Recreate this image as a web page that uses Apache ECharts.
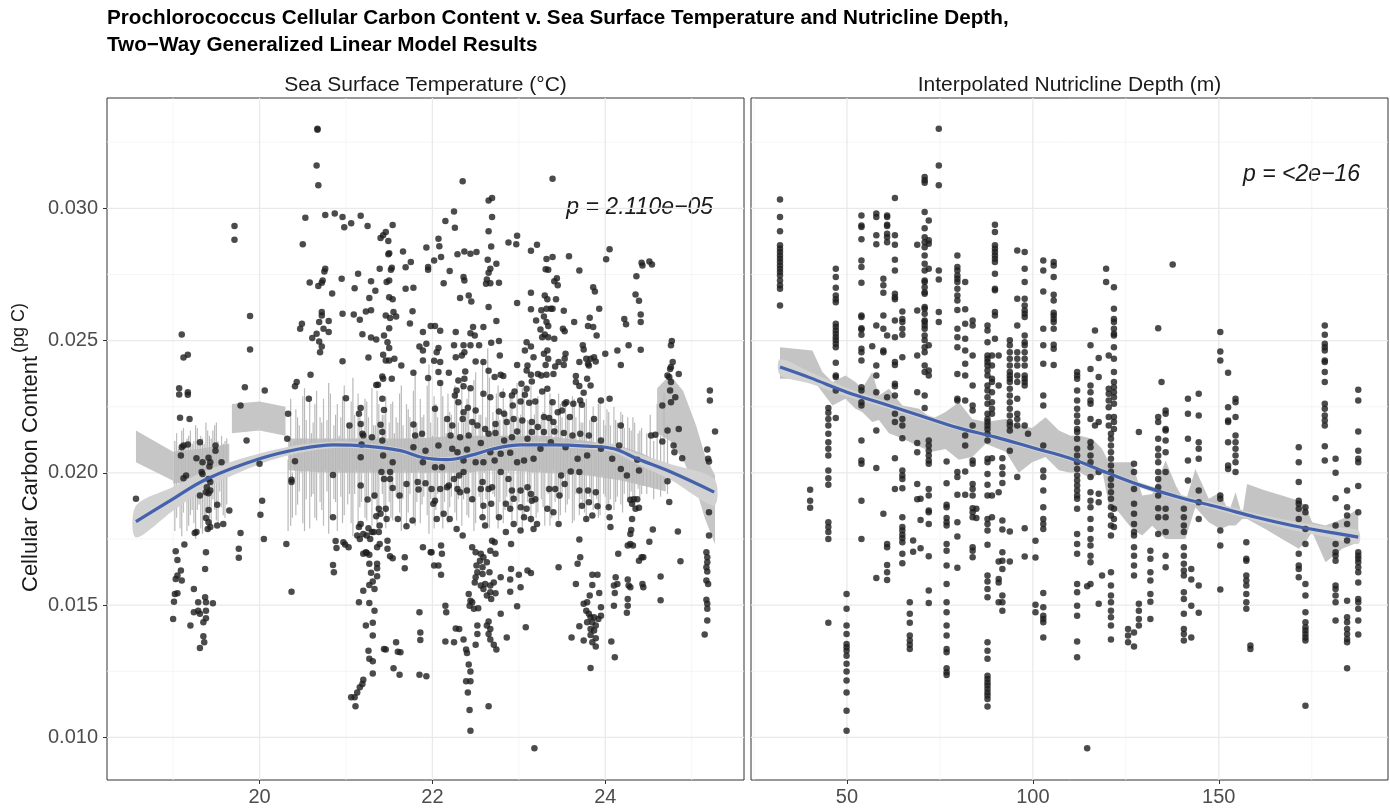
<!DOCTYPE html>
<html><head><meta charset="utf-8">
<script src="https://cdn.jsdelivr.net/npm/echarts@6.0.0/dist/echarts.min.js"></script>
<style>html,body{margin:0;padding:0;background:#fff}#c{width:1390px;height:808px}</style>
</head><body><div id="c"></div>
<script>
// ---------- Panel 1: sea surface temperature (°C) vs cellular carbon (pg C) ----------
const sstTopLeft = [[20.67,.03301],[20.67,.03297],[20.66,.03162],[20.68,.03087],[19.71,.02933],[19.71,.02881],[20.53,.02964],[20.76,.02975],[20.87,.0298],[20.96,.02967],[20.98,.02928],[21.06,.02944],[21.17,.02972],[21.25,.02933],[21.54,.02937],[21.46,.0291],[21.43,.02898],[21.4,.02888],[21.49,.02876],[20.5,.02864],[21.5,.0283],[21.49,.02826],[21.66,.02837],[21.93,.02852],[21.69,.02777],[21.75,.02797],[21.95,.02778],[21.95,.02768],[20.76,.02772],[20.75,.02761],[20.58,.0272],[20.72,.02719],[20.73,.02727],[20.68,.02706],[20.84,.02678],[20.95,.02734],[21.14,.02753],[21.1,.02698],[21.29,.02724],[21.34,.02688],[21.27,.02661],[21.39,.02772],[21.53,.02775],[21.52,.02768],[21.47,.02721],[21.5,.02727],[21.69,.02696],[21.78,.027],[21.5,.02664],[21.54,.02656],[19.89,.02593],[19.89,.02466],[20.72,.02608],[20.72,.02595],[20.69,.0257],[20.8,.02574],[20.74,.02545],[20.8,.02532],[20.66,.02526],[20.61,.0251],[20.69,.02497],[20.72,.02478],[20.7,.02456],[20.96,.02601],[21.09,.02599],[21.16,.02579],[21.23,.0261],[21.29,.02615],[21.46,.02595],[21.51,.02585],[21.58,.02591],[21.55,.02608],[21.77,.02611],[21.74,.02565],[20.49,.02564],[20.47,.02545],[21.19,.02524],[21.29,.02512],[21.35,.02504],[21.44,.02519],[21.48,.02494],[21.5,.02472],[21.5,.02547],[21.89,.02532],[21.98,.02555],[19.1,.02523],[19.12,.02436],[19.17,.02446],[20.96,.02422],[21.26,.02436],[21.43,.02446],[21.46,.02425],[21.56,.02431],[21.5,.02425],[21.64,.02406],[21.89,.02425],[21.85,.02478],[21.89,.02463],[21.93,.02488],[21.78,.02378],[21.95,.02359],[19.07,.0232],[19.07,.02296],[19.17,.02305],[19.17,.02295],[19.83,.02324],[20.06,.02311],[20.59,.02371],[20.43,.02343],[20.41,.02327],[20.57,.0228],[21,.02282],[21.42,.02364],[21.43,.02356],[21.53,.02356],[21.37,.02333],[21.35,.02332],[21.42,.0228],[21.44,.02238],[21.17,.02245],[21.15,.02223],[21.17,.02185],[21.04,.02179],[20.33,.02223],[19.78,.02255],[19.08,.02208],[19.19,.02204],[21.4,.02182],[21.78,.02183]];
const sstTopRight = [[22.35,.03102],[23.39,.03112],[22.65,.0303],[22.69,.03039],[22.25,.02988],[22.15,.02952],[22.26,.02927],[22.69,.02967],[22.65,.02913],[22.68,.02856],[22.07,.02885],[22.08,.02857],[22.02,.02803],[22.1,.02816],[22.29,.02826],[22.37,.02837],[22.44,.02828],[22.51,.02835],[22.64,.02806],[22.74,.0279],[22.2,.02763],[22.13,.02717],[22.36,.0274],[22.37,.02727],[22.67,.02772],[22.65,.02756],[22.63,.02731],[22.67,.02717],[22.62,.02715],[22.77,.02719],[22.32,.02661],[22.42,.0267],[22.45,.02648],[22.65,.02627],[22.74,.02574],[22.88,.02871],[22.98,.02896],[22.97,.02864],[23.14,.0284],[23.21,.02862],[23.32,.02808],[23.39,.02816],[23.31,.0277],[23.34,.02768],[23.41,.02724],[23.44,.02736],[23.45,.02709],[23.58,.02819],[23.7,.02765],[24.05,.02845],[24.01,.02807],[24.42,.02794],[24.43,.02784],[24.51,.02799],[24.54,.02788],[24.36,.02743],[24.35,.02674],[24.39,.02651],[24.41,.02599],[24.41,.0257],[24.22,.02582],[24.24,.02562],[23.14,.02681],[23.3,.0267],[23.33,.02656],[23.43,.02656],[22.98,.02642],[23.14,.02618],[23.26,.02615],[23.32,.0262],[23.37,.0262],[23.39,.0262],[23.52,.02613],[23.2,.02576],[23.29,.02591],[23.32,.0257],[23.34,.02555],[23.25,.02542],[23.3,.02523],[23.34,.02513],[23.41,.02507],[23.51,.02545],[23.53,.02535],[23.64,.0257],[23.86,.02702],[23.88,.02686],[23.93,.0262],[23.82,.02586],[23.8,.02555],[23.86,.02551],[23.9,.02519],[22.09,.02537],[22.03,.02555],[22.27,.02532],[22.44,.02528],[22.47,.02551],[22.49,.02519],[22.59,.02551],[22.68,.02492],[22.77,.02498],[22.54,.02482],[22.44,.02482],[22.36,.02482],[22.25,.02482],[22.07,.02472],[22.05,.02456],[22.02,.02424],[22.09,.02419],[22.07,.02381],[22.09,.0234],[22.27,.02437],[22.34,.02444],[22.37,.02456],[22.5,.02421],[22.59,.02419],[22.78,.02444],[22.65,.02386],[22.79,.02371],[22.82,.02366],[22.72,.02362],[22.38,.02383],[22.37,.02356],[22.3,.02349],[22.19,.02378],[22.28,.02311],[22.26,.02292],[22.3,.02267],[22.36,.02327],[22.44,.0232],[22.41,.02246],[22.36,.02229],[22.35,.02204],[22.46,.02192],[22.5,.02236],[22.59,.02299],[22.67,.02286],[22.81,.02295],[22.73,.02185],[22.61,.02166],[22.77,.02232],[22.92,.02292],[22.98,.02408],[23.07,.02463],[23.1,.02406],[23.09,.02387],[23.14,.02371],[23.15,.02345],[23.03,.02337],[23.09,.02318],[23.07,.02295],[23.02,.0227],[23.12,.02265],[23.19,.0227],[23.27,.02308],[23.33,.02318],[23.26,.02368],[23.22,.02374],[23.32,.02371],[23.4,.02374],[23.31,.02408],[23.34,.02431],[23.42,.02402],[23.46,.02419],[23.52,.02408],[23.54,.0245],[23.53,.02431],[23.29,.0245],[23.33,.02463],[23.17,.02437],[23.09,.02494],[23.14,.02478],[23.27,.02513],[22.95,.02308],[22.93,.02255],[22.83,.02223],[23.04,.02198],[23.15,.02192],[23.22,.02173],[23.29,.02211],[23.35,.02207],[23.4,.02192],[23.45,.02229],[23.5,.02236],[23.53,.02261],[23.55,.02267],[23.59,.02211],[23.63,.02261],[23.66,.02366],[23.66,.02343],[23.7,.02328],[23.71,.02274],[23.73,.02257],[23.75,.02303],[23.79,.02356],[23.81,.02406],[23.83,.02431],[23.74,.02482],[23.75,.02466],[23.7,.02419],[23.78,.02431],[23.87,.02437],[23.89,.02421],[23.8,.02412],[23.83,.0233],[23.87,.02204],[23.95,.02274],[24.05,.0228],[24,.0245],[24.14,.02463],[24.18,.02408],[24.27,.02482],[24.41,.02465],[24.18,.02179],[24.66,.02255],[24.76,.02267],[24.81,.02286],[24.85,.02166],[24.75,.02311],[24.76,.02343],[24.74,.02362],[24.76,.024],[24.78,.02419],[24.76,.02482],[24.77,.02498],[24.72,.02368],[24.75,.02393],[24.85,.02374],[25.21,.02311],[25.21,.02274],[22.03,.02242],[22.17,.02204],[22.23,.02179],[22.52,.02179],[22.86,.02192],[22.94,.02204],[23.39,.02267]];
const sstBottomLeft = [[18.57,.01902],[19.1,.02097],[19.12,.02103],[19.17,.02107],[19.09,.02066],[19.31,.02116],[19.27,.02055],[19.34,.0204],[19.41,.02057],[19.43,.0204],[19.42,.02024],[19.49,.02103],[19.49,.02084],[19.56,.0204],[19.85,.02122],[20.32,.02129],[20.41,.02044],[20,.02034],[19.12,.0198],[19.15,.0199],[19.33,.02003],[19.34,.01996],[19.41,.01977],[19.43,.01965],[19.39,.01946],[19.43,.01933],[19.41,.01923],[19.38,.01927],[19.31,.01914],[20.37,.01974],[20.37,.01965],[20.03,.01895],[20.01,.01842],[20.05,.0175],[20.31,.01731],[19.51,.01879],[19.65,.01858],[19.41,.0186],[19.38,.01829],[19.41,.01813],[19.43,.01795],[19.4,.01788],[19.51,.01801],[19.58,.01807],[19.25,.01773],[19.27,.01776],[19.78,.01773],[19.13,.01729],[19.03,.01704],[19.05,.01671],[19.38,.017],[19.37,.01637],[19.76,.01713],[19.76,.01679],[19.09,.01631],[19.05,.01612],[19.1,.01593],[19.03,.01599],[19.02,.01542],[19.05,.01545],[19.01,.01513],[19,.01448],[19.24,.01561],[19.29,.01511],[19.37,.0153],[19.38,.01511],[19.46,.01507],[19.24,.01473],[19.29,.01479],[19.31,.01467],[19.38,.01479],[19.38,.0145],[19.35,.01435],[19.2,.01423],[19.35,.01382],[19.36,.0136],[19.31,.01338],[20.37,.01551],[20.85,.01992],[21.17,.02059],[21.18,.02107],[21.2,.02141],[21.19,.02148],[21.3,.02135],[21.42,.02122],[21.42,.02154],[21.43,.02066],[21.41,.02003],[21.51,.02003],[21.44,.01977],[21.51,.01977],[21.54,.0204],[21.54,.01943],[21.62,.01914],[21.7,.01958],[21.83,.01965],[21.92,.01961],[21.84,.01937],[21.77,.0182],[21.7,.01798],[21.6,.01826],[21.78,.02097],[21.89,.0204],[21.92,.02084],[21.8,.02141],[21.88,.02148],[21.17,.01952],[21.25,.01899],[21.33,.01914],[21.38,.01864],[21.46,.01864],[21.4,.01845],[21.47,.01826],[21.35,.01836],[20.85,.01832],[21.39,.01801],[21.3,.01776],[21.26,.01791],[21.17,.01807],[21.15,.01795],[21.13,.01763],[21.16,.0175],[21.2,.01769],[21.24,.01763],[21.28,.0175],[21.32,.01776],[21.38,.01776],[20.88,.01742],[20.89,.01716],[20.97,.01738],[21.03,.01719],[20.99,.01729],[21.23,.017],[21.27,.0169],[21.24,.01697],[21.2,.01694],[21.36,.01719],[21.39,.01731],[21.48,.01743],[21.48,.01713],[21.51,.01685],[21.54,.01677],[21.68,.01681],[21.68,.01639],[21.89,.01719],[21.98,.017],[20.85,.01652],[20.86,.01624],[21.27,.01656],[21.36,.01656],[21.36,.01639],[21.29,.01622],[21.36,.01609],[21.31,.01589],[21.27,.01576],[21.33,.01561],[21.2,.01554],[21.15,.01511],[21.27,.01508],[21.33,.01479],[21.23,.01423],[21.31,.01433],[21.31,.01385],[21.26,.01328],[21.27,.01297],[21.31,.01288],[21.31,.01242],[21.2,.01218],[21.19,.01202],[21.13,.0117],[21.1,.01152],[21.06,.01152],[21.11,.01118],[21.16,.0119],[21.44,.01334],[21.46,.01332],[21.58,.0136],[21.6,.01324],[21.63,.01322],[21.55,.01261],[21.62,.01237],[21.85,.01237],[21.93,.01231],[21.85,.01473],[21.86,.01397],[21.86,.01368]];
const sstBottomRight = [[22.07,.02103],[22.21,.02141],[22.32,.02135],[22.42,.02141],[22.56,.02113],[22.65,.02148],[22.73,.02151],[22.83,.02122],[22.92,.02135],[22.98,.02156],[23.1,.02129],[23.15,.02154],[23.29,.02154],[23.37,.02116],[23.41,.02156],[23.52,.02151],[23.62,.02141],[23.71,.02148],[23.81,.02141],[23.95,.02122],[23.25,.02091],[23.17,.02053],[23.06,.02047],[22.98,.0204],[22.9,.02076],[22.79,.02072],[22.72,.02047],[22.67,.02078],[22.59,.0204],[22.5,.0204],[22.4,.02088],[22.36,.02047],[22.29,.02078],[22.23,.02091],[22.11,.02021],[22.03,.02021],[22.36,.02003],[22.31,.0199],[22.25,.01977],[22.17,.01946],[22.09,.01939],[22.03,.01895],[22.01,.01883],[22.19,.01952],[22.29,.01939],[22.32,.01927],[22.4,.01933],[22.46,.019],[22.56,.01939],[22.58,.01965],[22.65,.01939],[22.69,.01946],[22.68,.01883],[22.59,.01876],[22.58,.01832],[22.61,.01801],[22.79,.02003],[22.88,.01977],[22.92,.01933],[22.94,.01902],[23.02,.01933],[23.1,.01946],[23.14,.0192],[23.19,.019],[23.15,.01895],[23.09,.01864],[23.02,.0187],[22.9,.01864],[22.85,.01883],[23.06,.01832],[23.14,.01826],[23.21,.01807],[22.94,.01807],[23.02,.01782],[23.17,.01788],[23.33,.01864],[23.4,.01851],[23.35,.01939],[23.42,.01939],[23.47,.01914],[23.53,.01958],[23.49,.0199],[23.6,.02005],[23.7,.02003],[23.7,.01933],[23.8,.01933],[23.89,.01927],[23.73,.01876],[23.81,.01889],[23.91,.01874],[23.78,.01826],[23.85,.01839],[23.46,.01807],[23.54,.02097],[23.68,.02053],[23.79,.02066],[23.95,.02091],[22.77,.01832],[22.85,.01776],[22.91,.01731],[22.35,.01763],[22.28,.01788],[22.2,.01826],[22.13,.01845],[22.05,.01826],[21.99,.01939],[22.46,.01719],[22.5,.017],[22.56,.01694],[22.59,.01681],[22.67,.01706],[22.72,.01738],[22.69,.01743],[22.73,.01694],[22.63,.01662],[22.55,.01668],[22.51,.0165],[22.58,.01643],[22.52,.01624],[22.5,.01605],[22.58,.01618],[22.66,.01624],[22.79,.01605],[22.71,.01586],[22.67,.01574],[22.61,.0158],[22.56,.01574],[22.49,.01586],[22.59,.01561],[22.67,.01549],[22.73,.01545],[22.63,.01536],[22.68,.01523],[22.42,.01542],[22.46,.01511],[22.43,.01498],[22.48,.01486],[22.53,.01488],[22.44,.01517],[22.91,.01637],[23,.01615],[23.02,.01568],[22.9,.01597],[22.9,.01551],[22.98,.01496],[22.79,.01467],[23.1,.01631],[23.14,.01621],[23.46,.01643],[23.66,.0158],[23.68,.01656],[23.71,.01681],[23.7,.01748],[22.1,.01725],[22.11,.01694],[21.99,.017],[22.02,.0165],[22.07,.0165],[22.1,.01615],[22.15,.01498],[22.16,.01473],[22.27,.01412],[22.31,.0141],[22.25,.0136],[22.15,.01363],[22.36,.0137],[22.5,.0135],[22.52,.01391],[22.52,.01423],[22.65,.01438],[22.63,.01423],[22.67,.0141],[22.65,.01391],[22.67,.0137],[22.71,.0135],[22.74,.01332],[22.86,.01378],[23.08,.01416],[22.39,.01332],[22.4,.01319],[22.42,.01276],[22.44,.01249],[22.39,.01212],[22.44,.01212],[22.41,.0117],[22.43,.01104],[22.44,.01025],[22.65,.01118],[23.18,.00959],[23.85,.01615],[23.91,.01615],[23.85,.01576],[23.82,.01536],[23.93,.01546],[23.75,.01505],[23.79,.01511],[23.78,.01479],[23.81,.01467],[23.83,.01454],[23.87,.01454],[23.92,.01448],[23.95,.0146],[23.95,.01492],[23.79,.01435],[23.85,.01435],[23.89,.01423],[23.83,.0141],[23.87,.01404],[23.83,.01387],[23.89,.01375],[23.85,.0136],[23.89,.01344],[23.75,.01366],[23.7,.0142],[23.61,.01378],[23.83,.01262],[24.07,.01363],[24.11,.01303],[24.04,.0187],[24.05,.01832],[24.06,.01795],[24.15,.01694],[24.12,.01605],[24.14,.0158],[24.1,.01574],[24.11,.01546],[24.1,.01498],[24.29,.01898],[24.31,.01883],[24.35,.01864],[24.39,.01868],[24.33,.019],[24.37,.019],[24.31,.01826],[24.3,.01784],[24.29,.01769],[24.29,.01731],[24.26,.01725],[24.32,.01725],[24.42,.01681],[24.39,.01668],[24.44,.01681],[24.26,.01597],[24.27,.01574],[24.29,.01568],[24.26,.01523],[24.26,.01498],[24.25,.01471],[24.43,.0158],[24.44,.01568],[24.51,.0174],[24.55,.01786],[24.64,.01608],[24.64,.01518],[24.72,.01968],[24.74,.0189],[24.84,.01778],[24.87,.01666],[24.89,.02055],[24.8,.02078],[24.79,.02103],[24.66,.02119],[24.58,.02144],[24.72,.0216],[24.53,.02141],[24.39,.02009],[24.37,.0205],[24.25,.0199],[24.18,.02015],[24.08,.02053],[24.16,.02103],[25.27,.02156],[25.18,.02088],[25.19,.02053],[25.2,.02043],[25.2,.01851],[25.2,.01763],[25.17,.017],[25.18,.01681],[25.18,.01662],[25.17,.01643],[25.18,.01627],[25.17,.01593],[25.19,.0158],[25.17,.0152],[25.18,.01505],[25.18,.01486],[25.18,.01442],[25.15,.01389]];

// model fit (blue) and its standard-error half width
const sstFitX = [18.57,19.0,19.39,20.0,20.47,20.86,21.24,21.63,21.9,22.17,22.44,22.71,23.02,23.41,23.79,24.1,24.37,24.76,25.26];
const sstFitY = [.01816,.01902,.01977,.02053,.02091,.02106,.02101,.02084,.02057,.0205,.02066,.02091,.02106,.02106,.02101,.02091,.02053,.02003,.01927];
const sstFitSE = [.0006,.00045,.00033,.0002,.00015,.00012,.00011,.0001,.0001,.0001,.0001,.0001,.0001,.0001,.00011,.00014,.0002,.0003,.0005];
// jagged GLM prediction band: solid pieces [x, lower, upper] ...
const sstBandPieces = [
  [[18.57,.0204,.0216],[19.0,.0197,.0208]],
  [[19.0,.0196,.0208],[19.3,.0197,.0209],[19.65,.0199,.0211]],
  [[19.68,.0215,.0226],[20.0,.0216,.0227],[20.3,.0214,.0225]],
  [[20.33,.0201,.0213],[20.8,.02,.0213],[21.3,.02,.0213],[21.8,.02,.0213],[22.3,.02,.0214],[22.8,.0201,.0214],[23.3,.02,.0214],[23.8,.0199,.0212],[24.2,.0197,.021],[24.45,.0195,.0207],[24.7,.0193,.0203]],
  [[24.6,.0215,.0232],[24.75,.0212,.0237],[24.9,.0205,.0231],[25.05,.0194,.0218],[25.15,.0183,.0207],[25.27,.0173,.0199]]
];
// ... and its thin spikes [x, lower, upper]
const sstBandSpikes = [[19.02,.0178,.0212],[19.06,.0196,.0209],[19.1,.0176,.0216],[19.14,.019,.021],[19.18,.018,.0214],[19.22,.0186,.0211],[19.26,.0175,.0218],[19.3,.0188,.0212],[19.34,.0177,.0213],[19.38,.0184,.0219],[19.42,.0179,.0214],[19.46,.019,.0216],[19.5,.0182,.0219],[19.54,.0193,.021],[19.58,.0184,.0211],[19.62,.0188,.0213],[20.33,.0178,.0205],[20.36,.018,.0228],[20.38,.0183,.02],
[20.4,.0201,.0212],[20.44,.0188,.0221],[20.48,.02,.0213],[20.52,.0178,.0232],[20.56,.0201,.0211],[20.6,.0191,.0215],[20.64,.0183,.0226],[20.68,.02,.0212],[20.72,.0186,.0219],[20.76,.0201,.0213],[20.8,.0177,.0234],[20.84,.02,.0212],[20.88,.0189,.0222],[20.92,.0201,.0214],[20.96,.0181,.0229],[21,.02,.0212],[21.04,.0192,.0217],[21.08,.0176,.0236],[21.12,.0201,.0213],[21.16,.0187,.0221],[21.2,.02,.0212],[21.24,.0182,.0227],[21.28,.0201,.0214],[21.32,.019,.0218],[21.36,.0179,.0231],[21.4,.02,.0213],[21.44,.0186,.0222],[21.48,.0201,.0212],[21.52,.0183,.0226],[21.56,.02,.0215],[21.6,.019,.0219],[21.64,.0178,.0233],[21.68,.0201,.0213],[21.72,.0185,.0224],[21.76,.02,.0212],[21.8,.018,.0238],[21.84,.0201,.0214],[21.88,.0188,.0221],[21.92,.02,.0213],[21.96,.0177,.0241],[22,.0201,.0214],[22.04,.0186,.0226],[22.08,.02,.0213],[22.12,.0179,.0229],[22.16,.0201,.0215],[22.2,.0187,.0223],[22.24,.02,.0212],[22.28,.0182,.0231],[22.32,.0201,.0214],[22.36,.019,.0219],[22.4,.0184,.0228],[22.44,.02,.0213],[22.48,.0178,.0235],[22.52,.0201,.0214],[22.56,.0188,.0222],[22.6,.02,.0213],[22.64,.0181,.0247],[22.68,.0201,.0215],[22.72,.0191,.0218],[22.76,.0179,.0233],[22.8,.0201,.0214],[22.84,.0186,.0224],[22.88,.02,.0213],[22.92,.0182,.0228],[22.96,.0201,.0214],[23,.0189,.0221],[23.04,.0178,.0232],[23.08,.0201,.0213],[23.12,.019,.0219],[23.16,.02,.0214],[23.2,.0183,.0227],[23.24,.0201,.0213],[23.28,.0187,.0223],[23.32,.02,.0214],[23.36,.018,.023],[23.4,.0201,.0213],[23.44,.0191,.0218],[23.48,.0184,.0226],[23.52,.02,.0212],[23.56,.0188,.0222],[23.6,.02,.0213],[23.64,.0182,.0228],[23.68,.02,.0212],[23.72,.019,.0219],[23.76,.0185,.0225],[23.8,.0199,.0212],[23.84,.0188,.0221],[23.88,.0199,.0211],[23.92,.0183,.0226],[23.96,.0199,.0212],[24,.0191,.0218],[24.04,.0186,.0223],[24.08,.0198,.0211],[24.12,.0189,.022],[24.16,.0198,.021],[24.2,.0185,.0222],[24.24,.0197,.0209],[24.28,.019,.0217],[24.32,.0187,.0221],[24.36,.0196,.0208],[24.4,.0191,.0216],[24.44,.0195,.0207],[24.48,.0192,.0215],[24.52,.0195,.0222],[24.56,.019,.0212],[24.6,.0194,.0226],[24.64,.0191,.0214],[24.68,.0196,.023],[24.72,.0192,.0218]];
const sstBandSpikes2 = [[19.04,.0183,.0215],[19.08,.0179,.0211],[19.12,.0185,.0217],[19.16,.0178,.0213],[19.2,.0184,.0216],[19.24,.0181,.0212],[19.28,.0186,.0217],[19.32,.0179,.0214],[19.36,.0183,.0211],[19.4,.0185,.0216],[19.44,.018,.0213],[19.48,.0186,.0218],[19.52,.0181,.0212],[19.56,.0187,.0214],[19.6,.0183,.0212],
[20.42,.0184,.0224],[20.46,.0193,.0218],[20.5,.0181,.0229],[20.54,.019,.022],[20.58,.0179,.0227],[20.62,.0192,.0219],[20.66,.0182,.0231],[20.7,.0189,.0221],[20.74,.018,.0228],[20.78,.0193,.022],[20.82,.0183,.023],[20.86,.019,.0218],[20.9,.0178,.0226],[20.94,.0191,.0221],[20.98,.0184,.0233],[21.02,.0188,.0219],[21.06,.0181,.0227],[21.1,.0192,.0222],[21.14,.0179,.023],[21.18,.0189,.0219],[21.22,.0183,.0228],[21.26,.0191,.0221],[21.3,.018,.0232],[21.34,.019,.0218],[21.38,.0184,.0226],[21.42,.0192,.0222],[21.46,.0179,.0229],[21.5,.0189,.0219],[21.54,.0182,.0227],[21.58,.0191,.0221],[21.62,.0185,.023],[21.66,.019,.0218],[21.7,.018,.0226],[21.74,.0192,.0221],[21.78,.0183,.0231],[21.82,.0189,.0219],[21.86,.0181,.0228],[21.9,.0191,.0222],[21.94,.0184,.0233],[21.98,.019,.0219],[22.02,.0179,.0229],[22.06,.0192,.0221],[22.1,.0183,.0235],[22.14,.0189,.022],[22.18,.0181,.023],[22.22,.0191,.0222],[22.26,.0185,.0233],[22.3,.019,.0219],[22.34,.018,.0236],[22.38,.0192,.0222],[22.42,.0183,.0231],[22.46,.0189,.022],[22.5,.0181,.0238],[22.54,.0191,.0222],[22.58,.0184,.0242],[22.62,.019,.0221],[22.66,.0179,.0236],[22.7,.0192,.0223],[22.74,.0183,.023],[22.78,.0189,.022],[22.82,.0181,.0232],[22.86,.0191,.0222],[22.9,.0185,.0229],[22.94,.019,.0221],[22.98,.018,.0234],[23.02,.0192,.0222],[23.06,.0183,.023],[23.1,.0189,.022],[23.14,.0181,.0233],[23.18,.0191,.0222],[23.22,.0185,.0229],[23.26,.019,.022],[23.3,.018,.0231],[23.34,.0192,.0222],[23.38,.0183,.0228],[23.42,.0189,.0219],[23.46,.0182,.023],[23.5,.0191,.0221],[23.54,.0185,.0227],[23.58,.019,.022],[23.62,.0181,.0229],[23.66,.0192,.0221],[23.7,.0184,.0226],[23.74,.0189,.0219],[23.78,.0182,.0228],[23.82,.0191,.022],[23.86,.0186,.0225],[23.9,.019,.0219],[23.94,.0184,.0227],[23.98,.0192,.022],[24.02,.0187,.0224],[24.06,.019,.0218],[24.1,.0186,.0225],[24.14,.0191,.0219],[24.18,.0188,.0223],[24.22,.0192,.0217],[24.26,.0189,.0221],[24.3,.0193,.0216],[24.34,.019,.0219],[24.38,.0194,.0215],[24.42,.0192,.0217]];

// ---------- Panel 2: interpolated nutricline depth (m) ----------
const depthLevels = [32.0,40.1,45.0,47.0,49.9,53.9,56.8,57.9,59.8,60.8,62.9,64.9,66.9,67.8,68.9,69.8,70.9,72.0,74.7,76.8,79.7,81.8,83.8,84.8,87.8,89.0,89.8,90.8,91.8,93.8,95.8,97.8,98.7,100.7,102.8,105.6,111.9,114.6,115.5,116.7,117.7,118.6,119.7,120.4,121.0,121.8,125.6,127.2,128.5,131.6,133.7,134.6,135.7,137.6,140.6,141.7,142.6,144.6,150.4,152.5,154.5,157.4,158.5,171.5,173.3,178.5,181.4,184.5,187.5];
const depthCarbon = [
[.03033,.02967,.02913,.0286,.02847,.02835,.02822,.02809,.02797,.02784,.02772,.02759,.02746,.02727,.02709,.02696,.02633],
[.01936,.01895,.01868],
[.02245,.02227,.02204,.02179,.02148,.02116,.02091,.02066,.02009,.0198,.01955,.01813,.01795,.01776,.0175,.01433],
[.02772,.0274,.027,.0267,.02656,.02645,.02564,.02551,.02538,.02526,.02513,.02501,.02488,.02475,.02416,.02368,.02362,.02311,.02207],
[.01542,.01486,.01423,.01391,.01353,.01341,.01328,.01309,.01278,.01249,.01215,.0117,.01101,.01025],
[.02973,.02935,.02929,.02883,.02803,.02778,.02719,.02595,.02589,.02547,.02542,.02522,.02469,.02456,.02425,.02324,.02311,.02267,.02255,.02122,.02047,.02034,.01895,.0175],
[.02479],
[.0298,.02967,.02898,.02864,.02557,.02406,.02368,.02305,.0216,.02018,.01603],
[.02734,.02709,.02681,.02595,.02545,.02463,.02456,.01845],
[.02973,.02967,.02938,.02933,.02904,.02891,.02872,.02519,.02286,.01731,.01719,.01652,.01624,.01595],
[.03039,.02898,.02862,.02806,.02765,.02677,.02664,.02656,.02576,.02513,.02419,.02408,.02337,.02327,.02292,.02223,.02192,.02055,.01939],
[.0261,.02582,.0257,.02545,.02522,.02437,.02204,.02179,.02131,.02009,.0199,.01977,.01942,.01832,.01795,.01782,.01766,.01753,.01738,.01694,.01658],
[.01511,.01467,.01433,.01385,.01366,.0135,.01334],
[.01744,.01702],
[.02862,.02614,.02444,.02305,.02113,.02078,.01958,.019],
[.01902,.01822,.01715],
[.03118,.03106,.03097,.02986,.02925,.02891,.02872,.02853,.02822,.0279,.02765,.02727,.02721,.02702,.02683,.02677,.02627,.0262,.02601,.02576,.0257,.02557,.02545,.02519,.02501,.02475,.02456,.02406,.02381,.02292,.02245],
[.02954,.02879,.02866,.02772,.02482,.02387,.02368,.02103,.02084,.02066,.02034,.01939,.01914,.01858,.01851,.01807,.01685,.01555,.01508,.02122,.02047],
[.03301,.03162,.03087,.02765,.02731,.02608,.0257],
[.02043,.01961,.01879,.0187,.01829,.01813,.01801,.01731,.01706,.0165,.0158,.01511,.01473,.01423,.01385,.01334,.01322,.01261,.01246,.01236],
[.02822,.02778,.02765,.02746,.02734,.02721,.02696,.0267,.02652,.02616,.02545,.02513,.02475,.02374,.0228,.02274,.02003,.01984,.01917,.01813,.01759,.01641],
[.02721,.02618,.02564,.02507,.02463,.02412,.02368,.02274,.02141,.02103,.02005,.01917],
[.02576,.02557,.02444,.0233,.02255,.02236,.02179,.02047,.02034,.01958,.01939,.01914,.01866,.01851,.01832,.01719,.01706,.01681],
[.01864,.01829],
[.02557,.02538,.02494,.02444,.02431,.02419,.02406,.02387,.02368,.0233,.02311,.02286,.02261,.02223,.02204,.02192,.02179,.02166,.02148,.02122,.02053,.0204,.01996,.01955,.01914,.01826,.01807,.01782,.01728,.01612,.01589,.01561,.0153,.0136,.01328,.01297,.01233,.01221,.01208,.01196,.01183,.0117,.01158,.01145,.01117],
[.02444,.02406,.02356,.02343,.02305,.02267,.02242,.02223,.02055,.01914,.01832],
[.02938,.0291,.0286,.02847,.02835,.02822,.02809,.02797,.02753,.02696,.0269,.02608,.02595,.02507],
[.02444,.0233,.01927,.01665,.01599,.01586,.01511],
[.02055,.02021,.01996,.01962,.0182,.01786,.017,.01668,.01637,.01536,.01511,.01479],
[.02501,.02482,.02456,.02431,.02406,.02381,.02368,.02356,.02343,.02318,.02292,.02267,.02242,.02217,.02192,.02179,.0216,.02084,.01778,.01665],
[.02841,.02658,.02557,.02456,.02431,.02406,.02368,.02343,.0228,.02223,.02204,.02179,.01984],
[.02835,.02772,.02721,.02658,.02633,.02614,.02601,.02589,.02519,.02494,.02482,.02456,.02431,.02406,.02368,.02356,.02343,.0233,.02179,.01791,.01684],
[.02148],
[.01743,.0168,.01501,.01473],
[.02803,.02765,.02686,.02545,.02482,.02412,.02292,.02255,.02103,.02009,.01984,.01933,.0187,.01826,.01807,.01788,.01546,.01492,.0146,.01448,.01435,.01378],
[.02797,.02784,.0274,.02673,.02652,.02605,.02595,.02582,.0257,.02545,.02484,.02469,.02408],
[.02381,.02368,.02356,.02311,.02274,.02242,.02217,.02192,.02166,.02154,.02129,.02091,.02066,.0204,.02015,.0199,.01971,.01952,.01933,.01914,.01902,.01864,.01769,.01731,.01694,.0158,.01549,.01498,.0146,.01363,.01303],
[.01571,.00959],
[.02482,.02393,.0233,.02305,.02274,.02261,.02204,.02116,.02097,.02066,.0204,.01984,.01927,.01895,.0187,.01826,.01788,.0175,.01725,.01687,.01662,.0158],
[.02538,.02179],
[.02434,.02362,.02192,.02003,.01921,.01889,.01505],
[.01612],
[.02772,.02721],
[.02444,.02318,.02299,.02274,.02248,.02211,.02179],
[.02148,.02129,.02103,.02078,.02053,.02028,.02003,.01977,.01952,.01927,.01902,.0187,.01839,.01801,.01763,.01624,.01574,.01536,.01511,.01479,.01454,.01423,.0137],
[.02702,.0262,.02582,.0257,.02545,.02526,.02519,.02475,.02431,.02381,.02343,.02324,.02305,.02286,.02261,.02211,.02192,.02166,.01864,.01826,.01795],
[.0141,.01385,.0136],
[.02034,.02003,.01939,.01883,.01845,.01807,.01776,.01763,.01719,.01687,.0165,.01612,.01397,.01344],
[.02154,.01505,.01479,.01448,.01423],
[.01706,.01675,.01624,.01593,.01542,.01513,.01448],
[.02547,.02211,.02192,.02129,.02091,.02066,.0204,.02003,.01977,.01946,.01914,.01866,.01832,.01769],
[.02343],
[.02236,.02223,.02166,.0216,.02122,.02078,.02003,.01864,.01832,.01776,.01687,.01643],
[.02788],
[.01864,.01832,.01801,.01776,.01719,.01687,.01656,.01631,.01612,.01549,.01523,.01467,.0141,.01391,.01366],
[.0228,.02223,.02129,.02047,.01971],
[.01637,.01597,.01498,.01378],
[.02299,.02217,.02116,.02091,.02053,.01933,.01889,.01826,.01574,.01471],
[.02532,.02459,.02425,.01914,.01902,.01782,.01725,.01559],
[.02378,.02248,.02198,.02192,.02116,.02028,.02015],
[.0228,.02267,.02211,.02141,.02116,.02091,.02066,.0204,.02003],
[.01738,.01675,.01668,.01612,.01593,.01574,.01542,.01511,.01486],
[.01347,.01334],
[.02097,.0204,.01965,.01895,.01883,.01864,.01826,.01694,.0165,.01637,.01605],
[.0187,.01851,.01788,.01731,.0158,.01536,.01473,.01435,.01416,.01404,.01391,.01378,.01366,.0112],
[.02557,.02522,.02488,.02475,.02463,.02425,.02419,.02381,.02343,.02261,.02242,.02217,.02198,.02179,.02101,.02047],
[.02053,.02,.01904,.01801,.01731,.017,.01687,.01668,.01574,.01561,.01536,.01511,.01442],
[.01933,.0187,.01839,.01807,.01744,.01517,.01454,.01435,.0141,.01391,.01372,.0136,.01261],
[.02314,.02274,.02156,.02084,.02053,.0204,.0195,.01851,.017,.01687,.01675,.01662,.01643,.01624,.01586,.01523,.01511,.01486,.01442,.01389]
];
const depthFitX = [32,40,50,60,70,80,90,100,110,120,130,140,150,160,170,180,187.5];
const depthFitY = [.024,.0236,.02305,.0226,.02215,.0217,.02135,.02095,.02055,.02,.01948,.01905,.0187,.01832,.018,.01775,.01757];
const depthFitSE = [.0003,.00022,.00016,.00013,.00011,.0001,.0001,.0001,.0001,.0001,.0001,.00011,.00012,.00014,.00017,.0002,.00025];
const depthBandX = [32,40.7,43.4,46.1,49.6,52.3,54.1,56.8,58.6,61.3,64.9,69.4,72.9,76.5,80.1,83.7,87.3,92.7,96.2,99.8,103.4,107,110.1,112.4,115.9,118.6,120.4,123.1,126.7,129.4,132.1,135.7,138.5,141,143.7,147.3,150.4,152.7,154.5,156.3,157.6,162.5,167,171.5,173.3,175.1,178.7,183.2,187.5];
const depthBandHi = [.02475,.02463,.02381,.02343,.02368,.02343,.02318,.02381,.02292,.02318,.02255,.02242,.02204,.0223,.02267,.02204,.02192,.02204,.02179,.0217,.0221,.0216,.0214,.02141,.02129,.02091,.0204,.0204,.0204,.01914,.0192,.02047,.0195,.01889,.02015,.01902,.01927,.01851,.01927,.01839,.01958,.01933,.01914,.01895,.01876,.01813,.01801,.01826,.01864];
const depthBandLo = [.02356,.02356,.02305,.02255,.0228,.02242,.0223,.02192,.022,.0215,.0213,.021,.0208,.0209,.0205,.0206,.0211,.0208,.02,.0204,.0206,.0201,.02,.02003,.01977,.02015,.0188,.01851,.01788,.01763,.018,.0175,.0175,.0175,.0187,.01813,.01788,.01801,.01801,.01826,.01826,.01788,.0175,.01713,.01738,.01776,.01662,.01713,.01738];

// ---------- axes / ticks ----------
const yRange = [0.00839, 0.03417];
const yMajor = [0.010, 0.015, 0.020, 0.025, 0.030];
const yMinor = [0.0125, 0.0175, 0.0225, 0.0275, 0.0325];
const x1Range = [18.235, 25.605];
const x1Major = [20, 22, 24];
const x1Minor = [19, 21, 23, 25];
const x2Range = [24.2, 195.5];
const x2Major = [50, 100, 150];
const x2Minor = [25, 75, 125, 175];
const panelTitles = ['Sea Surface Temperature (°C)', 'Interpolated Nutricline Depth (m)'];
const pLabels = ['p = 2.110e−05', 'p = <2e−16'];

const FONT = '"Liberation Sans", Arial, Helvetica, sans-serif';
const sstData = sstTopLeft.concat(sstTopRight, sstBottomLeft, sstBottomRight);
const depthData = [];
depthLevels.forEach((d, i) => depthCarbon[i].forEach(c => depthData.push([d, c])));

function gridLines(idx, xs, ys, color, width, xr) {
  const yMid = (yRange[0] + yRange[1]) / 2, xMid = (xr[0] + xr[1]) / 2;
  const data = xs.map(v => [v, yMid, 0]).concat(ys.map(v => [xMid, v, 1]));
  return {
    type: 'custom', xAxisIndex: idx, yAxisIndex: idx, z: 0, silent: true, data,
    renderItem(params, api) {
      const cs = params.coordSys; const it = data[params.dataIndex];
      let shape;
      if (it[2] === 0) { const px = api.coord([it[0], yMid])[0]; shape = {x1: px, y1: cs.y, x2: px, y2: cs.y + cs.height}; }
      else { const py = api.coord([xMid, it[1]])[1]; shape = {x1: cs.x, y1: py, x2: cs.x + cs.width, y2: py}; }
      return {type: 'line', shape, style: {stroke: color, lineWidth: width}};
    }
  };
}
function band(idx, xs, lo, hi, color, smooth, z) {
  return {
    type: 'custom', xAxisIndex: idx, yAxisIndex: idx, z, silent: true, data: [[xs[0], lo[0]]],
    renderItem(params, api) {
      const pts = [];
      for (let i = 0; i < xs.length; i++) pts.push(api.coord([xs[i], hi[i]]));
      for (let i = xs.length - 1; i >= 0; i--) pts.push(api.coord([xs[i], lo[i]]));
      return {type: 'polygon', shape: {points: pts, smooth}, style: {fill: color}};
    }
  };
}
function pieces(idx, list, color, z) {
  return {
    type: 'custom', xAxisIndex: idx, yAxisIndex: idx, z, silent: true, data: list.map(p => [p[0][0], p[0][1]]),
    renderItem(params, api) {
      const p = list[params.dataIndex], pts = [];
      p.forEach(q => pts.push(api.coord([q[0], q[2]])));
      for (let i = p.length - 1; i >= 0; i--) pts.push(api.coord([p[i][0], p[i][1]]));
      return {type: 'polygon', shape: {points: pts}, style: {fill: color}};
    }
  };
}
function spikes(idx, list, color, width, z) {
  return {
    type: 'custom', xAxisIndex: idx, yAxisIndex: idx, z, silent: true, data: list,
    renderItem(params, api) {
      const s = list[params.dataIndex], a = api.coord([s[0], s[1]]), b = api.coord([s[0], s[2]]);
      return {type: 'line', shape: {x1: a[0], y1: a[1], x2: b[0], y2: b[1]}, style: {stroke: color, lineWidth: width}};
    }
  };
}
const sstSmoothLo = sstFitY.map((v, i) => v - sstFitSE[i]), sstSmoothHi = sstFitY.map((v, i) => v + sstFitSE[i]);
const depSmoothLo = depthFitY.map((v, i) => v - depthFitSE[i]), depSmoothHi = depthFitY.map((v, i) => v + depthFitSE[i]);

function xAxis(idx, r, major) {
  return {
    type: 'value', gridIndex: idx, min: r[0], max: r[1], splitNumber: 4,
    splitLine: {show: false}, axisLine: {show: false},
    axisTick: {show: true, length: 4, lineStyle: {color: '#333', width: 1}, customValues: major},
    axisLabel: {customValues: major, margin: 7, color: '#4d4d4d', fontSize: 20, fontFamily: FONT,
      formatter: v => major.indexOf(v) >= 0 ? String(v) : ''}
  };
}
function yAxis(idx, show) {
  return {
    type: 'value', gridIndex: idx, min: yRange[0], max: yRange[1],
    splitLine: {show: false}, axisLine: {show: false},
    axisTick: {show: show, length: 4, lineStyle: {color: '#333', width: 1}, customValues: yMajor},
    axisLabel: {show: show, customValues: yMajor, margin: 9, color: '#4d4d4d', fontSize: 20, fontFamily: FONT,
      formatter: v => yMajor.some(m => Math.abs(m - v) < 1e-9) ? v.toFixed(3) : ''}
  };
}

const chart = echarts.init(document.getElementById('c'), null, {renderer: 'canvas'});
chart.setOption({
  animation: false,
  backgroundColor: '#ffffff',
  title: {
    text: 'Prochlorococcus Cellular Carbon Content v. Sea Surface Temperature and Nutricline Depth,\nTwo−Way Generalized Linear Model Results',
    left: 107, top: 5, padding: 0,
    textStyle: {fontFamily: FONT, fontWeight: 'bold', fontSize: 20.7, lineHeight: 27, color: '#000'}
  },
  grid: [
    {left: 107, top: 98, width: 637, height: 682, show: true, borderColor: '#333', borderWidth: 1, backgroundColor: '#fff'},
    {left: 751, top: 98, width: 637, height: 682, show: true, borderColor: '#333', borderWidth: 1, backgroundColor: '#fff'}
  ],
  xAxis: [xAxis(0, x1Range, x1Major), xAxis(1, x2Range, x2Major)],
  yAxis: [yAxis(0, true), yAxis(1, false)],
  series: [
    gridLines(0, x1Minor, yMinor, '#f3f3f3', 0.8, x1Range),
    gridLines(0, x1Major, yMajor, '#e9e9e9', 1.3, x1Range),
    gridLines(1, x2Minor, yMinor, '#f3f3f3', 0.8, x2Range),
    gridLines(1, x2Major, yMajor, '#e9e9e9', 1.3, x2Range),
    pieces(0, sstBandPieces, '#c6c6c6', 1),
    spikes(0, sstBandSpikes, '#b8b8b8', 1.2, 1),
    spikes(0, sstBandSpikes2, '#bdbdbd', 1.2, 1),
    band(0, sstFitX, sstSmoothLo, sstSmoothHi, '#d2d2d2', 0.3, 1),
    band(1, depthBandX, depthBandLo, depthBandHi, '#c4c4c4', 0, 1),
    band(1, depthFitX, depSmoothLo, depSmoothHi, '#d2d2d2', 0.3, 1),
    {type: 'scatter', xAxisIndex: 0, yAxisIndex: 0, z: 3, data: sstData, symbolSize: 6.5, itemStyle: {color: '#1e1e1e'}, silent: true},
    {type: 'scatter', xAxisIndex: 1, yAxisIndex: 1, z: 3, data: depthData, symbolSize: 6.5, itemStyle: {color: '#1e1e1e'}, silent: true},
    {type: 'line', xAxisIndex: 0, yAxisIndex: 0, z: 4, data: sstFitX.map((x, i) => [x, sstFitY[i]]), smooth: 0.4, showSymbol: false, silent: true, lineStyle: {color: '#4461ab', width: 3.2}},
    {type: 'line', xAxisIndex: 1, yAxisIndex: 1, z: 4, data: depthFitX.map((x, i) => [x, depthFitY[i]]), smooth: 0.4, showSymbol: false, silent: true, lineStyle: {color: '#4461ab', width: 3.2}}
  ],
  graphic: [
    {type: 'text', x: 425.5, y: 85, style: {text: panelTitles[0], font: '21px ' + FONT, fill: '#1a1a1a', align: 'center', verticalAlign: 'middle'}},
    {type: 'text', x: 1069.5, y: 85, style: {text: panelTitles[1], font: '21px ' + FONT, fill: '#1a1a1a', align: 'center', verticalAlign: 'middle'}},
    {type: 'text', x: 713, y: 208, style: {text: pLabels[0], font: 'italic 23px ' + FONT, fill: '#1a1a1a', align: 'right', verticalAlign: 'middle'}},
    {type: 'text', x: 1360, y: 175, style: {text: pLabels[1], font: 'italic 23px ' + FONT, fill: '#1a1a1a', align: 'right', verticalAlign: 'middle'}},
    {type: 'text', x: 31, y: 474, rotation: Math.PI / 2, style: {text: 'Cellular Carbon Content', font: '22px ' + FONT, fill: '#1a1a1a', align: 'center', verticalAlign: 'middle'}},
    {type: 'text', x: 19, y: 328, rotation: Math.PI / 2, style: {text: '(pg C)', font: '18px ' + FONT, fill: '#1a1a1a', align: 'center', verticalAlign: 'middle'}}
  ]
});
</script>
</body></html>
